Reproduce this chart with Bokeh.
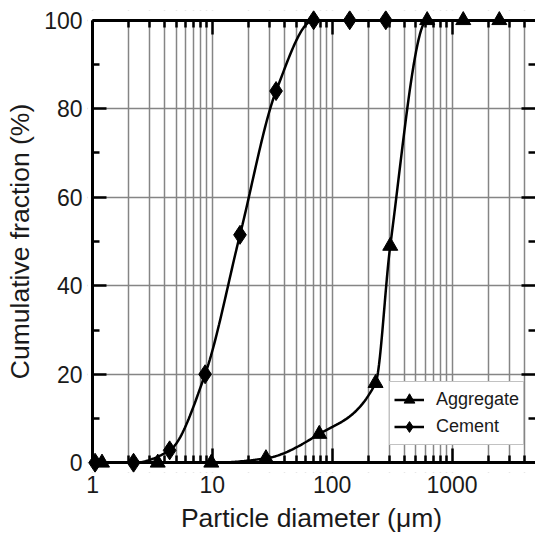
import numpy as np
from bokeh.plotting import figure
from bokeh.models import (FixedTicker, LogAxis, LinearAxis, Legend, LegendItem,
                          Range1d, BoxAnnotation)
from bokeh.embed import file_html
from bokeh.resources import INLINE

# ---- data ----
cement_diameter = [1.05, 2.2, 4.4, 8.7, 17, 34, 70, 140, 280]
cement_fraction = [0, 0, 2.8, 20, 51.5, 84, 100, 100, 100]
aggregate_diameter = [1.2, 3.5, 9.8, 28, 78, 230, 305, 620, 1240, 2480]
aggregate_fraction = [0, 0, 0, 1.0, 6.5, 18, 49, 100, 100, 100]

x_major_ticks = [1, 10, 100, 1000]
x_tick_labels = ["1", "10", "100", "1000"]
y_major_ticks = [0, 20, 40, 60, 80, 100]
y_minor_ticks = [10, 30, 50, 70, 90]
y_tick_labels = ["0", "20", "40", "60", "80", "100"]

X_MIN, X_MAX = 1, 4970          # axis extent
X_VIEW_MIN = 0.908              # small pad so markers on the axes are not clipped
Y_MIN, Y_MAX = 0, 100
Y_PAD = 2.2
x_minor_ticks = [m * d for d in x_major_ticks for m in range(2, 10) if m * d < X_MAX]


def smooth(xs, ys, n=30):
    """Monotone cubic (PCHIP) rendering curve in log10(x) space."""
    lx = np.log10(np.asarray(xs, float))
    y = np.asarray(ys, float)
    h = np.diff(lx)
    s = np.diff(y) / h
    m = np.zeros_like(y)
    m[0], m[-1] = s[0], s[-1]
    for k in range(1, len(y) - 1):
        if s[k - 1] * s[k] <= 0:
            m[k] = 0
        else:
            w1 = 2 * h[k] + h[k - 1]
            w2 = h[k] + 2 * h[k - 1]
            m[k] = (w1 + w2) / (w1 / s[k - 1] + w2 / s[k])
    out_x, out_y = [], []
    for k in range(len(y) - 1):
        t = np.linspace(0, 1, n, endpoint=(k == len(y) - 2))
        h00 = 2 * t**3 - 3 * t**2 + 1
        h10 = t**3 - 2 * t**2 + t
        h01 = -2 * t**3 + 3 * t**2
        h11 = t**3 - t**2
        yy = h00 * y[k] + h10 * h[k] * m[k] + h01 * y[k + 1] + h11 * h[k] * m[k + 1]
        out_x.extend(10 ** (lx[k] + t * h[k]))
        out_y.extend(yy)
    return out_x, out_y


FONT = "Liberation Sans"
TEXT = "#1a1a1a"
GRID = "#858585"

p = figure(width=535, height=537, x_axis_type="log",
           x_range=Range1d(X_VIEW_MIN, X_MAX),
           y_range=Range1d(Y_MIN - Y_PAD, Y_MAX + Y_PAD),
           output_backend="svg", toolbar_location=None,
           min_border_left=87, min_border_right=0,
           min_border_top=10, min_border_bottom=65)
p.outline_line_color = None
p.background_fill_color = "white"

xt = FixedTicker(ticks=x_major_ticks, minor_ticks=x_minor_ticks)
yt = FixedTicker(ticks=y_major_ticks, minor_ticks=y_minor_ticks)


def style_rule_axis(ax):
    ax.axis_line_width = 3
    ax.axis_line_color = "black"
    ax.major_tick_in = 14
    ax.major_tick_out = 0
    ax.minor_tick_in = 7
    ax.minor_tick_out = 0
    ax.major_tick_line_width = 2.5
    ax.minor_tick_line_width = 2.5
    ax.major_tick_line_color = "black"
    ax.minor_tick_line_color = "black"
    ax.major_label_text_font_size = "1px"
    ax.major_label_text_alpha = 0
    ax.major_label_standoff = 0


def style_label_axis(ax):
    ax.axis_line_color = None
    ax.major_tick_line_color = None
    ax.minor_tick_line_color = None
    ax.major_tick_in = 0
    ax.major_tick_out = 0
    ax.minor_tick_in = 0
    ax.minor_tick_out = 0
    ax.major_label_text_font = FONT
    ax.major_label_text_font_size = "23px"
    ax.major_label_text_color = TEXT
    ax.axis_label_text_font = FONT
    ax.axis_label_text_font_size = "26.5px"
    ax.axis_label_text_font_style = "normal"
    ax.axis_label_text_color = TEXT


# label axes (at the frame edges)
xa = p.xaxis[0]
xa.ticker = xt
xa.major_label_overrides = {v: l for v, l in zip(x_major_ticks, x_tick_labels)}
xa.axis_label = "Particle diameter (\u03bcm)"
style_label_axis(xa)
xa.major_label_standoff = 3
xa.axis_label_standoff = 7
ya = p.yaxis[0]
ya.ticker = yt
ya.major_label_overrides = {v: l for v, l in zip(y_major_ticks, y_tick_labels)}
ya.axis_label = "Cumulative fraction (%)"
style_label_axis(ya)
ya.major_label_standoff = 5
ya.axis_label_standoff = 6

# rule axes (lines and inward ticks) placed exactly on the data limits
bottom = LogAxis(ticker=xt, fixed_location=Y_MIN, bounds=(X_MIN, X_MAX))
top = LogAxis(ticker=xt, fixed_location=Y_MAX, bounds=(X_MIN, X_MAX))
left = LinearAxis(ticker=yt, fixed_location=X_MIN, bounds=(Y_MIN, Y_MAX))
right = LinearAxis(ticker=yt, bounds=(Y_MIN, Y_MAX))
for ax in (bottom, top, left, right):
    style_rule_axis(ax)
right.axis_line_color = None
p.add_layout(bottom, "below")
p.add_layout(top, "above")
p.add_layout(left, "left")
p.add_layout(right, "right")

p.xgrid.ticker = xt
p.xgrid.grid_line_color = GRID
p.xgrid.grid_line_width = 1.5
p.xgrid.minor_grid_line_color = GRID
p.xgrid.minor_grid_line_width = 1.5
p.ygrid.ticker = FixedTicker(ticks=y_major_ticks)
p.ygrid.grid_line_color = GRID
p.ygrid.grid_line_width = 1.5

# white masks over the small padding strips outside the axes
for kw in (dict(bottom=Y_MAX), dict(top=Y_MIN), dict(right=X_MIN)):
    p.add_layout(BoxAnnotation(fill_color="white", fill_alpha=1.0, line_color=None,
                               level="underlay", **kw))

ax_s, ay_s = smooth(aggregate_diameter, aggregate_fraction)
cx_s, cy_s = smooth(cement_diameter, cement_fraction)

la = p.line(ax_s, ay_s, line_color="black", line_width=2.5)
lc = p.line(cx_s, cy_s, line_color="black", line_width=2.5)
sa = p.scatter(aggregate_diameter, aggregate_fraction, marker="triangle", size=15,
               fill_color="black", line_color="black")
sc = p.scatter(cement_diameter, cement_fraction, marker="diamond", size=19,
               fill_color="black", line_color="black")

legend = Legend(items=[LegendItem(label="Aggregate", renderers=[la, sa]),
                       LegendItem(label="Cement", renderers=[lc, sc])],
                location=(302, 27))
legend.label_text_font = FONT
legend.label_text_font_size = "18px"
legend.label_text_color = TEXT
legend.glyph_width = 30
legend.glyph_height = 27
legend.label_height = 27
legend.label_standoff = 12
legend.spacing = 0
legend.padding = 4
legend.margin = 0
legend.border_line_color = GRID
legend.border_line_width = 1.5
legend.background_fill_color = "white"
legend.background_fill_alpha = 1.0
p.add_layout(legend, "center")

open("out.html", "w").write(file_html(p, INLINE))
